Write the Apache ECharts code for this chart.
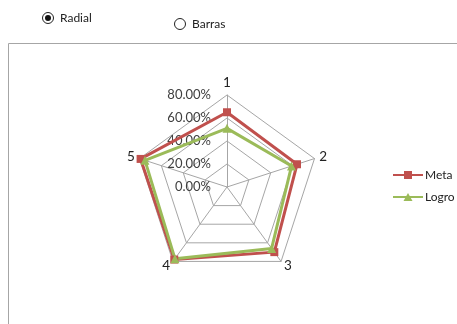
<!DOCTYPE html>
<html>
<head>
<meta charset="utf-8">
<script src="https://cdn.jsdelivr.net/npm/echarts@6/dist/echarts.min.js"></script>
<style>
  html, body { margin: 0; padding: 0; background: #fff; }
  #chart { width: 457px; height: 324px; }
</style>
</head>
<body>
<div id="chart"></div>
<script>
// Axes of the radar (clockwise from the top) and the two series (fractions, shown as percentages)
const indicatorNames = ['1', '2', '3', '4', '5'];
const metaValues = [0.65, 0.64, 0.70, 0.78, 0.79];
const logroValues = [0.51, 0.59, 0.66, 0.77, 0.75];
const seriesNames = ['Meta', 'Logro'];
const radarMax = 0.8;
const radarSplits = 4;
const viewOptions = ['Radial', 'Barras'];

const FONT = 'Lato, "Liberation Sans", sans-serif';
const META_COLOR = '#C0504D';
const LOGRO_COLOR = '#9BBB59';
const GRID_COLOR = '#A6A6A6';

// ECharts lays radar spokes out counter-clockwise; reorder so 1..5 run clockwise
const order = [0, 4, 3, 2, 1];
const cw = arr => order.map(i => arr[i]);

const chart = echarts.init(document.getElementById('chart'), null, { renderer: 'canvas' });

// Only the first spoke carries the percentage scale
const indicators = cw(indicatorNames).map((n, i) => {
  const ind = { name: n, max: radarMax, min: 0 };
  if (i !== 0) ind.axisLabel = { show: false };
  return ind;
});

const option = {
  animation: false,
  backgroundColor: '#ffffff',
  textStyle: { fontFamily: FONT },
  graphic: [
    // frame around the chart area
    {
      type: 'polyline',
      shape: { points: [[8.5, 324], [8.5, 43.5], [457, 43.5]] },
      style: { stroke: GRID_COLOR, lineWidth: 1, fill: null },
      silent: true
    },
    // view selector radio buttons
    { type: 'circle', shape: { cx: 48, cy: 18, r: 5.5 }, style: { stroke: '#222', lineWidth: 1, fill: '#fff' } },
    { type: 'circle', shape: { cx: 48, cy: 18, r: 3 }, style: { fill: '#111' } },
    { type: 'text', x: 60, y: 18, style: { text: viewOptions[0], fill: '#222', font: '12px ' + FONT, verticalAlign: 'middle' } },
    { type: 'circle', shape: { cx: 180, cy: 24, r: 5.5 }, style: { stroke: '#222', lineWidth: 1, fill: '#fff' } },
    { type: 'text', x: 192, y: 24, style: { text: viewOptions[1], fill: '#222', font: '12px ' + FONT, verticalAlign: 'middle' } }
  ],
  legend: {
    orient: 'vertical',
    left: 388,
    top: 164,
    itemGap: 10,
    itemWidth: 30,
    itemHeight: 8,
    textStyle: { fontFamily: FONT, fontSize: 12, color: '#222', padding: [0, 0, 0, -3] },
    data: [
      { name: seriesNames[0], icon: 'path://M0,3 H30 V5 H0 Z M11,0 H19 V8 H11 Z' },
      { name: seriesNames[1], icon: 'path://M0,3 H30 V5 H0 Z M10.5,8 L15,0 L19.5,8 Z' }
    ]
  },
  radar: {
    center: [227, 187],
    radius: 92,
    startAngle: 90,
    splitNumber: radarSplits,
    shape: 'polygon',
    indicator: indicators,
    nameGap: 5,
    axisName: { color: '#222', fontSize: 13.5, fontFamily: FONT },
    axisLine: { lineStyle: { color: GRID_COLOR, width: 1 } },
    splitLine: { lineStyle: { color: GRID_COLOR, width: 1 } },
    splitArea: { show: false },
    axisTick: { show: false },
    axisLabel: {
      show: true,
      color: '#404040',
      fontSize: 13,
      fontFamily: FONT,
      margin: 16,
      padding: [3, 0, 0, 0],
      formatter: v => (v * 100).toFixed(2) + '%'
    }
  },
  series: [
    {
      type: 'radar',
      data: [
        {
          name: seriesNames[0],
          value: cw(metaValues),
          symbol: 'rect',
          symbolSize: 8,
          itemStyle: { color: META_COLOR },
          lineStyle: { color: META_COLOR, width: 3 }
        },
        {
          name: seriesNames[1],
          value: cw(logroValues),
          symbol: 'triangle',
          symbolSize: 9,
          itemStyle: { color: LOGRO_COLOR },
          lineStyle: { color: LOGRO_COLOR, width: 3 }
        }
      ]
    }
  ]
};

chart.setOption(option);
</script>
</body>
</html>
